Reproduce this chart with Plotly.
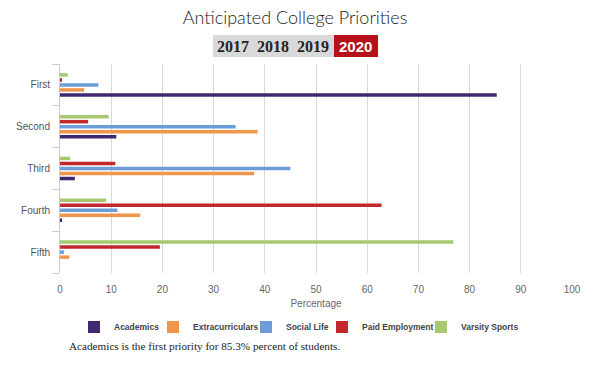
import plotly.graph_objects as go

categories = ["First", "Second", "Third", "Fourth", "Fifth"]
academics = [85.3, 11.0, 2.9, 0.3, 0.0]
extracurriculars = [4.7, 38.6, 37.9, 15.7, 1.8]
social_life = [7.5, 34.3, 45.0, 11.2, 0.8]
paid_employment = [0.3, 5.5, 10.8, 62.8, 19.5]
varsity_sports = [1.5, 9.5, 2.0, 9.0, 76.8]
x_ticks = list(range(0, 101, 10))
years = ["2017", "2018", "2019"]
active_year = "2020"

series = [
    ("Academics", academics, "#3f2870"),
    ("Extracurriculars", extracurriculars, "#f0964b"),
    ("Social Life", social_life, "#6c9dd9"),
    ("Paid Employment", paid_employment, "#c1272d"),
    ("Varsity Sports", varsity_sports, "#a6c970"),
]
legend_ids = ["legend", "legend2", "legend3", "legend4", "legend5"]
legend_text_x = [114, 193, 286, 362, 461]   # where each legend label starts (px)

W, H = 600, 371
L, R, T, B = 60, 28, 64, 98
pw, ph = W - L - R, H - T - B

def px(x):
    return (x - L) / pw

def py(y):
    return (H - B - y) / ph

fig = go.Figure()
for (name, vals, col), lid in zip(series, legend_ids):
    fig.add_trace(go.Bar(y=categories, x=vals, name="<b>" + name + "</b>", orientation="h",
                         legend=lid, marker=dict(color=col, line=dict(width=0))))

legend_common = dict(orientation="h", yanchor="middle", xanchor="left",
                     font=dict(family="Liberation Sans, Arial, sans-serif", size=8.5, color="#444"),
                     itemwidth=30, bgcolor="rgba(0,0,0,0)", borderwidth=0)
legends = {}
for lid, tx in zip(legend_ids, legend_text_x):
    legends[lid] = dict(legend_common, x=px(tx - 40), y=py(327))

fig.update_layout(
    width=W, height=H,
    margin=dict(l=L, r=R, t=T, b=B, autoexpand=False),
    paper_bgcolor="white", plot_bgcolor="white",
    barmode="group", bargap=0.4, bargroupgap=0.3,
    font=dict(family="Liberation Sans, Arial, sans-serif", color="#555", size=10),
    title=dict(text="Anticipated College Priorities", x=295 / W, xanchor="center",
               y=1 - 18 / H, yanchor="middle", automargin=False,
               font=dict(family="Lato, sans-serif", size=18, color="#222", weight=300)),
    showlegend=True,
    xaxis=dict(range=[0, 100], tickvals=x_ticks, showgrid=True, gridcolor="#d9d9d9",
               gridwidth=1, zeroline=False, ticks="", tickfont=dict(size=10, color="#666"),
               ticklabelstandoff=9, automargin=False,
               title=dict(text="Percentage", font=dict(size=10, color="#666"), standoff=5),
               showline=False),
    yaxis=dict(categoryorder="array", categoryarray=categories[::-1],
               tickson="boundaries", ticks="outside", ticklen=7, tickcolor="#cccccc",
               showline=True, linecolor="#cccccc", linewidth=1, showgrid=False,
               tickfont=dict(size=10, color="#555"), ticklabelstandoff=7, automargin=False),
    **legends,
)

# Year selector
fig.add_shape(type="rect", xref="paper", yref="paper", x0=px(213), x1=px(334),
              y0=py(57), y1=py(35), fillcolor="#d9d9d9", line=dict(width=0), layer="above")
fig.add_shape(type="rect", xref="paper", yref="paper", x0=px(334), x1=px(378),
              y0=py(57), y1=py(35), fillcolor="#b7121c", line=dict(width=0), layer="above")
for yr, cx in zip(years, [232.5, 272.5, 313]):
    fig.add_annotation(text="<b>" + yr + "</b>", xref="paper", yref="paper",
                       x=px(cx), y=py(46), xanchor="center", yanchor="middle", showarrow=False,
                       font=dict(family="Liberation Serif, serif", size=16, color="#222"))
fig.add_annotation(text="<b>" + active_year + "</b>", xref="paper", yref="paper",
                   x=px(355.5), y=py(46), xanchor="center", yanchor="middle", showarrow=False,
                   font=dict(family="Liberation Sans, Arial, sans-serif", size=15, color="white"))

fig.add_annotation(text="Academics is the first priority for 85.3% percent of students.",
                   xref="paper", yref="paper", x=px(67), y=py(346), xanchor="left",
                   yanchor="middle", showarrow=False,
                   font=dict(family="Liberation Serif, serif", size=11.2, color="#222"))

fig.write_html("out.html", config={"displayModeBar": False},
               post_script="document.body.style.margin='0px';")
